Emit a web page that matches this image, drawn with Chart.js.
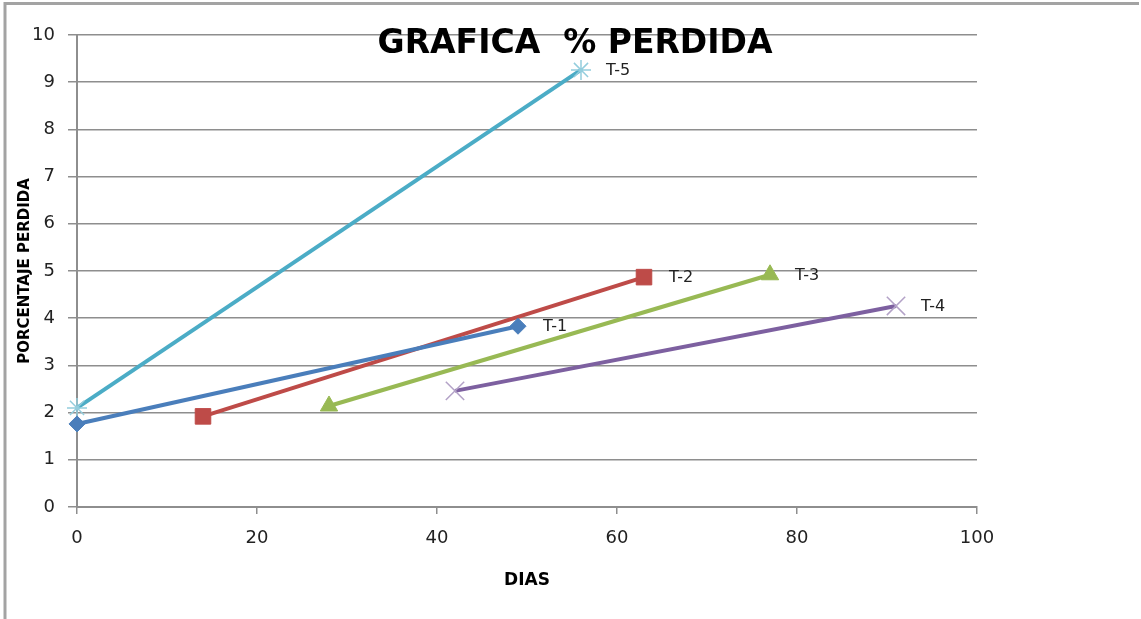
<!DOCTYPE html>
<html>
<head>
<meta charset="utf-8">
<script src="https://cdn.jsdelivr.net/npm/chart.js@4"></script>
<style>
  html, body { margin: 0; padding: 0; background: #fff; }
  #wrap { width: 1141px; height: 619px; }
</style>
</head>
<body>
<div id="wrap"><canvas id="grafica"></canvas></div>
<script>
// datos
const series = ['T-1', 'T-2', 'T-3', 'T-4', 'T-5'];
const diasT1 = [0, 49];
const pctT1 = [1.76, 3.83];
const diasT2 = [14, 63];
const pctT2 = [1.92, 4.87];
const diasT3 = [28, 77];
const pctT3 = [2.14, 4.92];
const diasT4 = [42, 91];
const pctT4 = [2.46, 4.26];
const diasT5 = [0, 56];
const pctT5 = [2.1, 9.26];
const ticksY = [0, 1, 2, 3, 4, 5, 6, 7, 8, 9, 10];
const ticksX = [0, 20, 40, 60, 80, 100];

const pares = (xs, ys) => xs.map((x, i) => ({ x: x, y: ys[i] }));

const gris = '#8e8e8e';
const fuente = 'DejaVu Sans';

// marco, titulo y etiquetas de cada serie
const extras = {
  id: 'extras',
  beforeDraw(chart) {
    const c = chart.ctx;
    c.save();
    c.strokeStyle = '#a3a3a3';
    c.lineWidth = 3;
    c.beginPath();
    c.moveTo(5, 619);
    c.lineTo(5, 3.5);
    c.lineTo(1139, 3.5);
    c.stroke();
    c.restore();
  },
  afterDatasetsDraw(chart) {
    const c = chart.ctx;
    c.save();
    c.font = '16px "' + fuente + '"';
    c.fillStyle = '#222';
    c.textBaseline = 'middle';
    c.textAlign = 'left';
    chart.data.datasets.forEach((ds, i) => {
      const pts = chart.getDatasetMeta(i).data;
      const p = pts[pts.length - 1];
      c.fillText(series[i], p.x + 25, p.y + 1);
    });
    c.font = 'bold 33px "' + fuente + '"';
    c.fillStyle = '#000';
    c.textAlign = 'center';
    c.fillText('GRAFICA  % PERDIDA', 575, 44);
    c.restore();
  }
};

const ctx = document.getElementById('grafica').getContext('2d');
const grafica = new Chart(ctx, {
  type: 'line',
  data: {
    datasets: [{
      label: series[0],
      data: pares(diasT1, pctT1),
      borderColor: '#4a7ebb',
      backgroundColor: '#4a7ebb',
      pointStyle: 'rectRot',
      pointRadius: 8,
      pointBorderWidth: 1
    }, {
      label: series[1],
      data: pares(diasT2, pctT2),
      borderColor: '#be4b48',
      backgroundColor: '#be4b48',
      pointStyle: 'rect',
      pointRadius: 11,
      pointBorderWidth: 1
    }, {
      label: series[2],
      data: pares(diasT3, pctT3),
      borderColor: '#98b954',
      backgroundColor: '#98b954',
      pointStyle: 'triangle',
      pointRadius: 10,
      pointBorderWidth: 1
    }, {
      label: series[3],
      data: pares(diasT4, pctT4),
      borderColor: '#7d60a0',
      backgroundColor: '#7d60a0',
      pointStyle: 'crossRot',
      pointRadius: 13,
      pointBorderColor: '#b3a2c7',
      pointBorderWidth: 1.5
    }, {
      label: series[4],
      data: pares(diasT5, pctT5),
      borderColor: '#4bacc6',
      backgroundColor: '#4bacc6',
      pointStyle: 'star',
      pointRadius: 10,
      pointBorderColor: '#93cddd',
      pointBorderWidth: 1.5
    }]
  },
  options: {
    responsive: true,
    maintainAspectRatio: false,
    animation: false,
    clip: false,
    elements: {
      line: { borderWidth: 4, tension: 0 }
    },
    layout: {
      padding: { left: 0, top: 35, right: 164, bottom: 0 }
    },
    scales: {
      x: {
        type: 'linear',
        min: 0,
        max: 100,
        afterFit: s => { s.height = 112; },
        afterBuildTicks: s => { s.ticks = ticksX.map(v => ({ value: v })); },
        ticks: {
          color: '#222',
          padding: 14,
          font: { family: fuente, size: 18 }
        },
        grid: {
          drawOnChartArea: false,
          drawTicks: true,
          tickLength: 7,
          color: gris,
          lineWidth: 1.5
        },
        border: { color: gris, width: 2 },
        title: {
          display: true,
          text: 'DIAS',
          color: '#000',
          font: { family: fuente, size: 17, weight: 'bold' },
          padding: { top: 0, bottom: 28 }
        }
      },
      y: {
        type: 'linear',
        min: 0,
        max: 10,
        afterFit: s => { s.width = 77; },
        afterBuildTicks: s => { s.ticks = ticksY.map(v => ({ value: v })); },
        ticks: {
          color: '#222',
          padding: 13,
          font: { family: fuente, size: 18 }
        },
        grid: {
          color: gris,
          lineWidth: 1.5,
          drawTicks: true,
          tickLength: 9
        },
        border: { color: gris, width: 2 },
        title: {
          display: true,
          text: 'PORCENTAJE PERDIDA',
          color: '#000',
          font: { family: fuente, size: 15, weight: 'bold' },
          padding: { top: 16, bottom: 0 }
        }
      }
    },
    plugins: {
      legend: { display: false },
      title: { display: false },
      tooltip: { enabled: false }
    }
  },
  plugins: [extras]
});
</script>
</body>
</html>
